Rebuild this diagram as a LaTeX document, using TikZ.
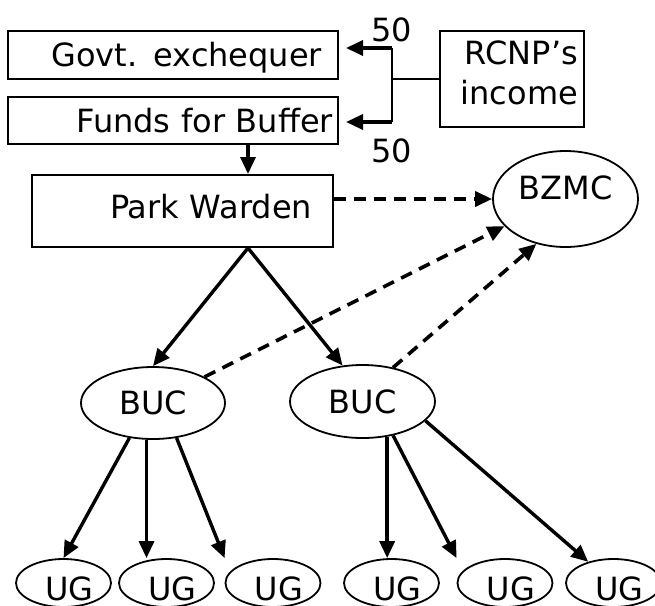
\documentclass[tikz,border=0pt]{standalone}
\usepackage{fontspec}
\setmainfont{DejaVu Sans}
\usetikzlibrary{arrows.meta,shapes.geometric}

\begin{document}
\begin{tikzpicture}[x=1pt,y=-1pt,font=\fontsize{32}{40}\selectfont,
  box/.style={draw,line width=2pt,inner ysep=0pt,align=right},
  ell/.style={draw,ellipse,line width=1.8pt,inner sep=0pt},
  arr/.style={line width=3.4pt,-{Triangle[length=17pt,width=15pt]}},
  dasharr/.style={arr,line width=3.6pt,dash pattern=on 12pt off 8pt}]
\useasboundingbox (0,0) rectangle (655,605);\clip (0,0) rectangle (655,605);
\node[box,minimum height=48,text width=298,inner xsep=16,text depth=2] (govt) at (173,55) {Govt. exchequer};
\node[box,minimum height=47,text width=320,inner xsep=5] (funds) at (173,120.5) {Funds for Buffer};
\node[box,minimum height=96,text width=132,inner xsep=6] (rcnp) at (512,79) {RCNP’s\\income\rule[-12pt]{0pt}{0pt}};
\node[box,minimum height=72,text width=259,inner xsep=21,text depth=10] (park) at (182.5,211) {Park Warden};
\node[ell,minimum width=145,minimum height=96,text height=24,text depth=24] (bzmc) at (565.5,199) {BZMC};
\node[ell,minimum width=144,minimum height=72] (buc1) at (153,403) {BUC};
\node[ell,minimum width=145,minimum height=73] (buc2) at (362.5,401.5) {BUC};
\foreach \i/\x in {1/63.5,2/166.5,3/273,4/391.5,5/505,6/613.5} {
  \node[ell,minimum width=95,minimum height=48] (ug\i) at (\x,583) {};
  \node[inner sep=0pt] (ug\i txt) at ([xshift=6,yshift=-6]ug\i) {UG};}
\draw[line width=2pt] (rcnp.west) -- ++(-47,0) coordinate (split);
\coordinate (hi) at ([yshift=31]split);\coordinate (lo) at ([yshift=-43]split);
\draw[line width=2pt] (hi) -- (lo);
\draw[arr,shorten >=7pt] (hi) -- (hi -| govt.east);\draw[arr,shorten >=7pt] (lo) -- (lo -| funds.east);
\node (fiftya) at ([yshift=49]split) {50};\node (fiftyb) at ([yshift=-72]split) {50};
\coordinate (drop) at ([xshift=75]funds.south);\draw[arr] (drop) -- (drop |- park.north);
\coordinate (fork) at ([xshift=65.5]park.south);
\draw[arr] (fork) -- (buc1.north);\draw[arr] (fork) -- (buc2.119);
\draw[dasharr] (park.east |- bzmc.west) -- (bzmc.west);
\draw[dasharr] (buc1.north east) -- (bzmc.204);
\draw[dasharr] (buc2.48) -- (bzmc.237);
\foreach \a/\b in {buc1.236/ug1.north,buc1.260/buc1.260 |- ug2.north,buc1.304/ug3.north -| ug3.west,
  buc2.305/buc2.305 |- ug4.north,buc2.312/ug5.north -| ug5.west,buc2.343/ug6.140}
  {\draw[arr] (\a) -- (\b);}
\end{tikzpicture}
\end{document}
